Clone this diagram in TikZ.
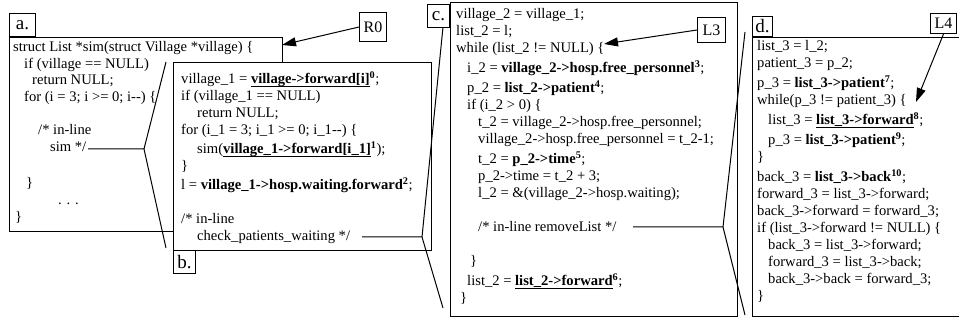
\documentclass[tikz,border=0pt]{standalone}
\usepackage{fontspec}
\setmainfont{Liberation Serif}[Ligatures=TeXOff]
\usetikzlibrary{arrows.meta}

% fonts for code, panel tags and callouts
\newcommand\codefont{\fontsize{14.6}{17}\selectfont}
\newcommand\tagfont{\fontsize{19}{19}\selectfont}
\newcommand\calloutfont{\fontsize{16}{16}\selectfont}
% highlighted memory accesses
\newcommand\hot[1]{\textbf{#1}}
\newcommand\hotul[1]{\setbox0\hbox{\textbf{#1}}\rlap{\rule[-2.6pt]{\wd0}{0.9pt}}\box0}
\newcommand\accno[1]{\textsuperscript{\textbf{#1}}}

\tikzset{
  code/.style={anchor=base west, inner sep=0pt, font=\codefont},
  panel/.style={draw, line width=1pt, fill=white, anchor=north west, inner sep=0pt},
  tag/.style={draw, line width=1pt, fill=white, inner sep=0pt, font=\tagfont},
  callout/.style={draw, line width=1pt, fill=white, inner sep=0pt, font=\calloutfont, anchor=north west},
  link/.style={line width=1pt},
  ptr/.style={line width=1pt, -{Triangle[length=14pt,width=9pt]}},
}

\begin{document}
\begin{tikzpicture}[x=1pt, y=-1pt]
\useasboundingbox (0,0) rectangle (959,320);

% ---------------- panel a: the original function
\node[panel, minimum width=273pt, minimum height=194pt] (pa) at (9,37) {};
\node[tag, anchor=south west, minimum width=26pt, minimum height=23pt] (ta) at (9,37) {a.};
\node[code] (a1) at (13,52) {struct List *sim(struct Village *village) \{};
\node[code] (a2) at (24,68.5) {if (village == NULL)};
\node[code] (a3) at (32,85) {return NULL;};
\node[code] (a4) at (24,101.5) {for (i = 3; i >= 0; i--) \{};
\node[code] (a5) at (38,135) {/* in-line};
\node[code] (a6) at (50,152) {sim */};
\node[code] (a7) at (26,188) {\}};
\node[code] (a8) at (58,205) {. . .};
\node[code] (a9) at (15,222) {\}};

% expansion of the recursive call into panel b
\coordinate (sa) at (88,149);
\coordinate (xa) at (144,149);
\coordinate (ua) at (166,62);
\coordinate (da) at (166,248);
\draw[link] (sa) -- (xa) -- (ua);
\draw[link] (xa) -- (da);

% ---------------- panel b: first in-lined level
\node[panel, minimum width=258pt, minimum height=188pt] (pb) at (173,62) {};
\node[tag, anchor=north west, minimum width=22pt, minimum height=23pt] (tb) at (173,250) {b.};
\node[code] (b1) at (181,84) {village\_1 = \hotul{village->forward[i]}\accno{0};};
\node[code] (b2) at (181,101) {if (village\_1 == NULL)};
\node[code] (b3) at (197,118) {return NULL;};
\node[code] (b4) at (181,135) {for (i\_1 = 3; i\_1 >= 0; i\_1--) \{};
\node[code] (b5) at (197,154) {sim(\hotul{village\_1->forward[i\_1]}\accno{1});};
\node[code] (b6) at (181,171) {\}};
\node[code] (b7) at (181,190) {l = \hot{village\_1->hosp.waiting.forward}\accno{2};};
\node[code] (b8) at (181,224) {/* in-line};
\node[code] (b9) at (197,241) {check\_patients\_waiting */};

% callout R0
\node[callout, minimum width=27pt, minimum height=29pt] (r0) at (359,12) {R0};
\coordinate (r0tip) at (282,45);
\draw[ptr] (r0.west) -- (r0tip);

% expansion of check_patients_waiting into panel c
\coordinate (sb) at (362,237);
\coordinate (xb) at (422,237);
\coordinate (ub) at (443,27);
\coordinate (db) at (443,308);
\draw[link] (sb) -- (xb) -- (ub);
\draw[link] (xb) -- (db);

% ---------------- panel c
\node[panel, minimum width=287pt, minimum height=314pt] (pc) at (450,2) {};
\node[tag, anchor=north east, minimum width=22pt, minimum height=23pt] (tc) at (450,4) {c.};
\node[code] (c1) at (456,19) {village\_2 = village\_1;};
\node[code] (c2) at (456,36) {list\_2 = l;};
\node[code] (c3) at (456,53) {while (list\_2 != NULL) \{};
\node[code] (c4) at (467,73) {i\_2 = \hot{village\_2->hosp.free\_personnel}\accno{3};};
\node[code] (c5) at (467,93) {p\_2 = \hot{list\_2->patient}\accno{4};};
\node[code] (c6) at (467,110) {if (i\_2 > 0) \{};
\node[code] (c7) at (478,127) {t\_2 = village\_2->hosp.free\_personnel;};
\node[code] (c8) at (478,144) {village\_2->hosp.free\_personnel = t\_2-1;};
\node[code] (c9) at (478,164) {t\_2 = \hot{p\_2->time}\accno{5};};
\node[code] (c10) at (478,181) {p\_2->time = t\_2 + 3;};
\node[code] (c11) at (478,198) {l\_2 = \&(village\_2->hosp.waiting);};
\node[code] (c12) at (478,232) {/* in-line removeList */};
\node[code] (c13) at (470,266) {\}};
\node[code] (c14) at (467,286) {list\_2 = \hotul{list\_2->forward}\accno{6};};
\node[code] (c15) at (460,303) {\}};

% callout L3
\node[callout, minimum width=28pt, minimum height=25pt] (l3) at (697,17) {L3};
\coordinate (l3tip) at (604,44);
\draw[ptr] (l3.west) -- (l3tip);

% expansion of removeList into panel d
\coordinate (sc) at (633,227);
\coordinate (xc) at (723,227);
\coordinate (uc) at (745,32);
\coordinate (dc) at (745,315);
\draw[link] (sc) -- (xc) -- (uc);
\draw[link] (xc) -- (dc);

% ---------------- panel d
\node[panel, minimum width=210pt, minimum height=279pt] (pd) at (752,37) {};
\node[tag, anchor=south west, minimum width=20pt, minimum height=20pt] (td) at (752,37) {d.};
\node[code] (d1) at (757,51) {list\_3 = l\_2;};
\node[code] (d2) at (757,68) {patient\_3 = p\_2;};
\node[code] (d3) at (757,88) {p\_3 = \hot{list\_3->patient}\accno{7};};
\node[code] (d4) at (757,105) {while(p\_3 != patient\_3) \{};
\node[code] (d5) at (768,125) {list\_3 = \hotul{list\_3->forward}\accno{8};};
\node[code] (d6) at (768,145) {p\_3 = \hot{list\_3->patient}\accno{9};};
\node[code] (d7) at (757,162) {\}};
\node[code] (d8) at (757,182) {back\_3 = \hot{list\_3->back}\accno{10};};
\node[code] (d9) at (757,199) {forward\_3 = list\_3->forward;};
\node[code] (d10) at (757,216) {back\_3->forward = forward\_3;};
\node[code] (d11) at (757,233) {if (list\_3->forward != NULL) \{};
\node[code] (d12) at (768,250) {back\_3 = list\_3->forward;};
\node[code] (d13) at (768,267) {forward\_3 = list\_3->back;};
\node[code] (d14) at (768,284) {back\_3->back = forward\_3;};
\node[code] (d15) at (757,301) {\}};

% callout L4
\node[callout, minimum width=26pt, minimum height=20pt] (l4) at (930,13) {L4};
\coordinate (l4tip) at (916,102);
\draw[ptr] (l4.south) -- (l4tip);
\end{tikzpicture}
\end{document}
